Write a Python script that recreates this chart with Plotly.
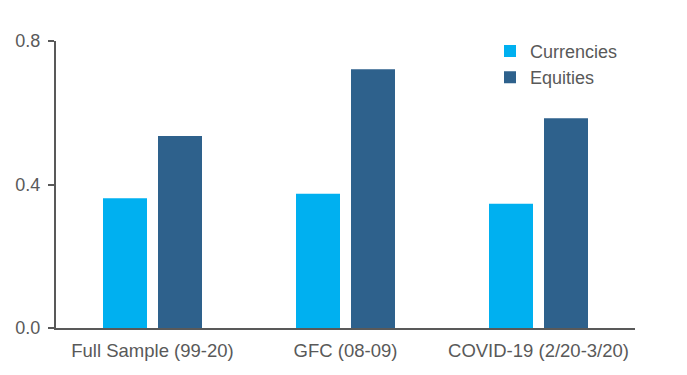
import plotly.graph_objects as go

categories = ["Full Sample (99-20)", "GFC (08-09)", "COVID-19 (2/20-3/20)"]
currencies = [0.362, 0.374, 0.346]
equities = [0.535, 0.721, 0.585]

FONT = "Liberation Sans, Arial, sans-serif"
GRAY = "#595959"

# page body adds an 8px offset; margins compensate for it
L, R, T, B = 48, 60, 33, 55
W, H = 687, 375
PW, PH = W - L - R, H - T - B

fig = go.Figure()
fig.add_trace(go.Bar(name="Currencies", x=categories, y=currencies, marker_color="#00B0F0", marker_line_width=0))
fig.add_trace(go.Bar(name="Equities", x=categories, y=equities, marker_color="#2E618C", marker_line_width=0))

fig.update_layout(
    width=W, height=H,
    margin=dict(l=L, r=R, t=T, b=B, autoexpand=False),
    paper_bgcolor="white", plot_bgcolor="white",
    font=dict(family=FONT, size=18, color=GRAY),
    barmode="group", bargap=0.43, bargroupgap=0.2,
    showlegend=True,
    legend=dict(x=(482 - L) / PW, y=1.0 + (T - 24.7) / PH, yanchor="top", xanchor="left",
                bgcolor="rgba(0,0,0,0)", font=dict(size=18, color=GRAY),
                itemwidth=30, tracegroupgap=0),
)
fig.update_xaxes(showline=True, linecolor=GRAY, linewidth=2, ticks="", showgrid=False, automargin=False,
                 ticklabelstandoff=5, tickfont=dict(size=18.5, color=GRAY))
fig.update_yaxes(range=[0, 0.8], dtick=0.4, tick0=0, tickformat=".1f", showgrid=False, zeroline=False,
                 showline=True, linecolor=GRAY, linewidth=2, ticks="outside", ticklen=6, automargin=False,
                 tickcolor=GRAY, tickwidth=2, ticklabelstandoff=4,
                 tickfont=dict(size=18, color=GRAY))

fig.write_html("out.html")
